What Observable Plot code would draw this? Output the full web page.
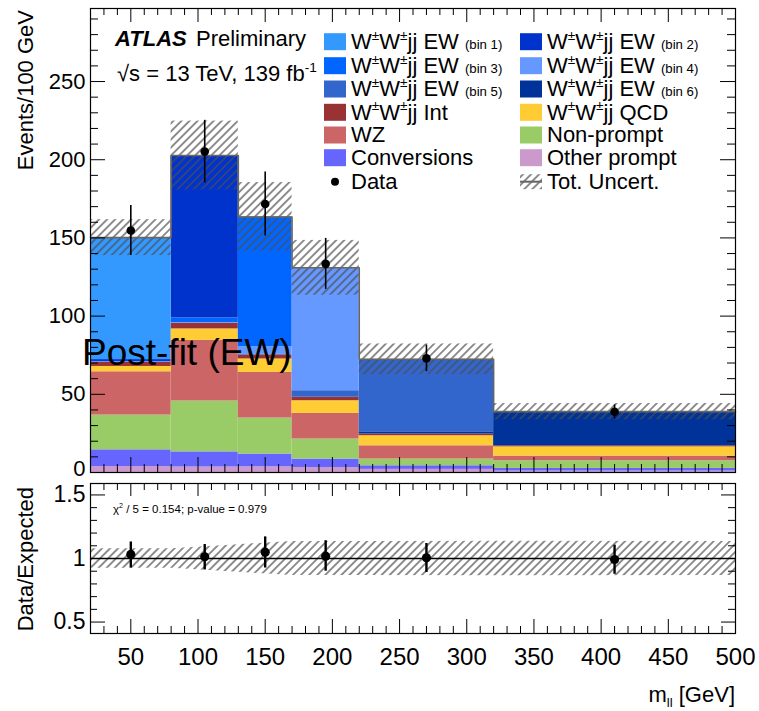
<!DOCTYPE html>
<html><head><meta charset="utf-8">
<script src="https://cdn.jsdelivr.net/npm/d3@7"></script>
<script src="https://cdn.jsdelivr.net/npm/@observablehq/plot@0.6"></script>
<style>
body{margin:0;background:#fff;}
#wrap{position:relative;width:759px;height:711px;overflow:hidden;background:#fff;}
#wrap > svg{position:absolute;left:0;}
</style></head><body><div id="wrap"></div>
<script>
const FONT = '"Liberation Sans", Arial, Helvetica, sans-serif';

// ---- binning (m_ll, GeV) ----
const binLo = [20, 80, 130, 170, 220, 320];
const binHi = [80, 130, 170, 220, 320, 500];
const binCenter = [50, 105, 150, 195, 270, 410];

// ---- processes, stacked bottom -> top ----
const processNames = ["Other prompt", "Conversions", "Non-prompt", "WZ", "W±W±jj QCD", "W±W±jj Int",
  "W±W±jj EW (bin 6)", "W±W±jj EW (bin 5)", "W±W±jj EW (bin 4)", "W±W±jj EW (bin 3)", "W±W±jj EW (bin 2)", "W±W±jj EW (bin 1)"];
const processColors = ["#cc99cc", "#6666ff", "#99cc66", "#cc6666", "#ffcc33", "#993333",
  "#003399", "#3366cc", "#6699ff", "#0066ff", "#0033cc", "#3399ff"];

// ---- post-fit yields (Events/100 GeV) per bin ----
const otherPrompt  = [3.8, 3.5, 3.6, 3.2, 2.0, 0.9];
const conversions  = [10.7, 9.7, 8.2, 5.4, 2.3, 1.7];
const nonPrompt    = [22.2, 32.5, 23.0, 12.8, 4.3, 4.9];
const wz           = [27.7, 38.8, 29.2, 16.4, 8.5, 3.0];
const qcd          = [3.4, 7.3, 8.6, 8.1, 6.4, 5.9];
const interference = [2.6, 3.6, 2.5, 2.1, 1.1, 0.7];
const ewBin6       = [0, 0, 0, 0.3, 1.4, 21.6];
const ewBin5       = [0.1, 0.1, 0.4, 4.0, 46.0, 0.2];
const ewBin4       = [0.2, 0.3, 4.9, 78.3, 0.4, 0];
const ewBin3       = [0.3, 3.0, 82.7, 0.3, 0, 0];
const ewBin2       = [1.2, 103.4, 0.3, 0, 0, 0];
const ewBin1       = [78.0, 0.5, 0, 0, 0, 0];
const processValues = [otherPrompt, conversions, nonPrompt, wz, qcd, interference,
  ewBin6, ewBin5, ewBin4, ewBin3, ewBin2, ewBin1];

const totalUncert = [11.5, 22, 22, 17.5, 9.8, 5.2];
const dataValues  = [154.7, 205.2, 171.7, 133.4, 73.0, 38.8];
const dataErrors  = [16, 20, 20.5, 16.3, 8.5, 4.4];

// ---- ratio panel ----
const ratioValues = [1.032, 1.013, 1.05, 1.018, 1.005, 0.992];
const ratioHigh   = [1.13, 1.11, 1.17, 1.14, 1.118, 1.105];
const ratioLow    = [0.925, 0.91, 0.925, 0.90, 0.89, 0.876];

// ---- axis ticks ----
const xMajorTicks = [50, 100, 150, 200, 250, 300, 350, 400, 450, 500];
const xMinorTicks = d3.range(30, 500, 10).filter(v => v % 50 !== 0);
const yMainMajor = [0, 50, 100, 150, 200, 250];
const yMainMinor = d3.range(10, 297, 10).filter(v => v % 50 !== 0);
const yRatioMajor = [0.5, 1, 1.5];
const yRatioTickLabels = ["0.5", "1", "1.5"];
const yRatioMinor = [0.6, 0.7, 0.8, 0.9, 1.1, 1.2, 1.3, 1.4];

// ---- derived tables ----
const stackRows = processNames.flatMap((p, i) => processValues[i].map((v, b) => ({proc: p, lo: binLo[b], hi: binHi[b], value: v})));
const bins = binLo.map((lo, b) => {
  const total = d3.sum(processValues, s => s[b]);
  return {lo, hi: binHi[b], center: binCenter[b], total, unc: totalUncert[b],
    data: dataValues[b], err: dataErrors[b],
    ratio: ratioValues[b], rHi: ratioHigh[b], rLo: ratioLow[b]};
});
const totalSteps = bins.map(b => ({x: b.lo, y: b.total})).concat([{x: binHi[binHi.length - 1], y: bins[bins.length - 1].total}]);
const bandPts = [{x: binLo[0], rel: bins[0].unc / bins[0].total}].concat(bins.map(b => ({x: b.hi, rel: b.unc / b.total})));

const W = 759;
const mL = 90, mR = 24;
const innerW = W - mL - mR;

function addHatch(svg, id) {
  d3.select(svg).insert("defs", ":first-child").html(
    `<pattern id="${id}" patternUnits="userSpaceOnUse" width="5.7" height="5.7" patternTransform="rotate(45)">` +
    `<line x1="2.85" y1="-1" x2="2.85" y2="7" stroke="#4d4d4d" stroke-width="1.25"/></pattern>`);
}

// ================= main panel =================
const mainH = 484, mT = 8, mB = 12;
const innerH = mainH - mT - mB;
const main = Plot.plot({
  width: W, height: mainH, marginLeft: mL, marginRight: mR, marginTop: mT, marginBottom: mB,
  style: {fontFamily: FONT, fontSize: "23px", color: "black", background: "transparent"},
  x: {domain: [20, 500], axis: null},
  y: {domain: [0, 296.7], axis: null},
  color: {domain: processNames, range: processColors},
  marks: [
    Plot.rectY(stackRows, {x1: "lo", x2: "hi", y: "value", fill: "proc", order: processNames}),
    Plot.rect(bins, {x1: "lo", x2: "hi", y1: d => d.total - d.unc, y2: d => d.total + d.unc, fill: "url(#hatchMain)"}),
    Plot.line(totalSteps, {x: "x", y: "y", curve: "step-after", stroke: "#666666", strokeWidth: 1.6}),
    Plot.ruleX(bins, {x: "center", y1: d => d.data - d.err, y2: d => d.data + d.err, stroke: "black", strokeWidth: 1.6}),
    Plot.dot(bins, {x: "center", y: "data", r: 4.3, fill: "black"}),
    Plot.tickX(xMajorTicks, {x: d => d, insetTop: innerH - 15, stroke: "black"}),
    Plot.tickX(xMajorTicks, {x: d => d, insetBottom: innerH - 14, stroke: "black"}),
    Plot.tickX(xMinorTicks, {x: d => d, insetTop: innerH - 8, stroke: "black"}),
    Plot.tickX(xMinorTicks, {x: d => d, insetBottom: innerH - 7, stroke: "black"}),
    Plot.tickY(yMainMajor, {y: d => d, insetRight: innerW - 15, stroke: "black"}),
    Plot.tickY(yMainMajor, {y: d => d, insetLeft: innerW - 15, stroke: "black"}),
    Plot.tickY(yMainMinor, {y: d => d, insetRight: innerW - 8, stroke: "black"}),
    Plot.tickY(yMainMinor, {y: d => d, insetLeft: innerW - 8, stroke: "black"}),
    Plot.axisY(yMainMajor.filter(v => v > 0), {tickSize: 0, tickPadding: 5, label: null, fontSize: 22, tickFormat: d => String(d)}),
    Plot.axisY([yMainMajor[0]], {tickSize: 0, tickPadding: 5, label: null, fontSize: 22, dy: -4, tickFormat: d => String(d)}),
    Plot.frame({stroke: "black", strokeWidth: 1.2})
  ]
});
addHatch(main, "hatchMain");
main.style.top = "0px";

// ================= ratio panel =================
const ratioTop = 477;
const ratioH = 711 - ratioTop, rT = 6, rB = 78;
const rInnerH = ratioH - rT - rB;
const ratio = Plot.plot({
  width: W, height: ratioH, marginLeft: mL, marginRight: mR, marginTop: rT, marginBottom: rB,
  style: {fontFamily: FONT, fontSize: "24px", color: "black", background: "transparent"},
  x: {domain: [20, 500], axis: null},
  y: {domain: [0.41, 1.59], axis: null},
  marks: [
    Plot.areaY(bandPts, {x: "x", y1: d => 1 - d.rel, y2: d => 1 + d.rel, fill: "url(#hatchRatio)", curve: "linear"}),
    Plot.ruleY([1], {stroke: "black", strokeWidth: 1.3}),
    Plot.ruleX(bins, {x: "center", y1: "rLo", y2: "rHi", stroke: "black", strokeWidth: 2.4}),
    Plot.dot(bins, {x: "center", y: "ratio", r: 4.6, fill: "black"}),
    Plot.tickX(xMajorTicks, {x: d => d, insetTop: rInnerH - 14, stroke: "black"}),
    Plot.tickX(xMajorTicks, {x: d => d, insetBottom: rInnerH - 13, stroke: "black"}),
    Plot.tickX(xMinorTicks, {x: d => d, insetTop: rInnerH - 7, stroke: "black"}),
    Plot.tickX(xMinorTicks, {x: d => d, insetBottom: rInnerH - 7, stroke: "black"}),
    Plot.tickY(yRatioMajor, {y: d => d, insetRight: innerW - 15, stroke: "black"}),
    Plot.tickY(yRatioMajor, {y: d => d, insetLeft: innerW - 14, stroke: "black"}),
    Plot.tickY(yRatioMinor, {y: d => d, insetRight: innerW - 7, stroke: "black"}),
    Plot.tickY(yRatioMinor, {y: d => d, insetLeft: innerW - 7, stroke: "black"}),
    Plot.axisY(yRatioMajor, {tickSize: 0, tickPadding: 5, label: null, fontSize: 23,
      tickFormat: d => yRatioTickLabels[yRatioMajor.indexOf(d)]}),
    Plot.axisX(xMajorTicks, {tickSize: 0, tickPadding: 14, label: null, fontSize: 24, tickFormat: d => String(d)}),
    Plot.frame({stroke: "black", strokeWidth: 1.2})
  ]
});
addHatch(ratio, "hatchRatio");
ratio.style.top = ratioTop + "px";

const wrap = document.getElementById("wrap");
wrap.appendChild(main);
wrap.appendChild(ratio);

// ================= annotations & legend overlay =================
const ov = d3.select(wrap).append("svg")
  .attr("width", 759).attr("height", 711).style("top", "0px")
  .style("font-family", FONT).style("pointer-events", "none");
ov.append("defs").html(
  `<pattern id="hatchLeg" patternUnits="userSpaceOnUse" width="5.7" height="5.7" patternTransform="rotate(45)">` +
  `<line x1="2.85" y1="-1" x2="2.85" y2="7" stroke="#4d4d4d" stroke-width="1.25"/></pattern>`);

// segments: [text, kind] kind: "n" normal, "sup" superscript, "sub" subscript, "small" small
function richText(g, x, y, size, segs, attrs = {}) {
  const t = g.append("text").attr("x", x).attr("y", y).attr("font-size", size).attr("fill", "black");
  for (const k in attrs) t.attr(k, attrs[k]);
  let shift = 0;
  for (const [s, kind] of segs) {
    const ts = t.append("tspan").text(s);
    let target = 0, fs = size;
    if (kind === "sup") { target = -size * 0.42; fs = size * 0.62; }
    else if (kind === "sub") { target = size * 0.22; fs = size * 0.6; }
    else if (kind === "small") { fs = size * 0.6; }
    ts.attr("dy", target - shift).attr("font-size", fs);
    shift = target;
  }
  return t;
}

// ATLAS label
richText(ov, 115, 46, 22, [["ATLAS", "n"]], {"font-weight": "bold", "font-style": "italic"});
richText(ov, 196, 46, 22, [["Preliminary", "n"]]);
richText(ov, 117, 81, 22, [["√s = 13 TeV, 139 fb", "n"], ["-1", "sup"]]);

// Post-fit label
richText(ov, 82, 365, 37, [["Post-fit (EW)", "n"]]);

// chi2
richText(ov, 113, 513, 11.5, [["χ", "n"], ["2", "sup"], [" / 5 = 0.154; p-value = 0.979", "n"]]);

// axis titles
ov.append("text").attr("transform", "translate(33,10) rotate(-90)").attr("text-anchor", "end")
  .attr("font-size", 22).attr("fill", "black").text("Events/100 GeV");
ov.append("text").attr("transform", "translate(33,487) rotate(-90)").attr("text-anchor", "end")
  .attr("font-size", 22).attr("fill", "black").text("Data/Expected");
richText(ov, 735, 702, 22, [["m", "n"], ["ll", "sub"], [" [GeV]", "n"]], {"text-anchor": "end"});

// legend
const wwSegs = (tail, small) => {
  const s = [["W", "n"], ["±", "sup"], ["W", "n"], ["±", "sup"], ["jj " + tail, "n"]];
  if (small) s.push(["\u00a0", "n"], [small, "small"]);
  return s;
};
const colorOf = name => processColors[processNames.indexOf(name)];
const legendRows = [41.7, 65.7, 89, 112.3, 135, 157.7, 181.7];
const legendCols = [
  [{k: "W±W±jj EW (bin 1)", segs: wwSegs("EW", "(bin 1)")},
   {k: "W±W±jj EW (bin 3)", segs: wwSegs("EW", "(bin 3)")},
   {k: "W±W±jj EW (bin 5)", segs: wwSegs("EW", "(bin 5)")},
   {k: "W±W±jj Int", segs: wwSegs("Int")},
   {k: "WZ", segs: [["WZ", "n"]]},
   {k: "Conversions", segs: [["Conversions", "n"]]},
   {k: "data", segs: [["Data", "n"]]}],
  [{k: "W±W±jj EW (bin 2)", segs: wwSegs("EW", "(bin 2)")},
   {k: "W±W±jj EW (bin 4)", segs: wwSegs("EW", "(bin 4)")},
   {k: "W±W±jj EW (bin 6)", segs: wwSegs("EW", "(bin 6)")},
   {k: "W±W±jj QCD", segs: wwSegs("QCD")},
   {k: "Non-prompt", segs: [["Non-prompt", "n"]]},
   {k: "Other prompt", segs: [["Other prompt", "n"]]},
   {k: "unc", segs: [["Tot. Uncert.", "n"]]}]
];
const colX = [324, 520];
legendCols.forEach((col, ci) => {
  col.forEach((item, ri) => {
    const cy = legendRows[ri];
    const sx = colX[ci];
    if (item.k === "data") {
      ov.append("circle").attr("cx", sx + 11).attr("cy", cy).attr("r", 4).attr("fill", "black");
    } else if (item.k === "unc") {
      ov.append("rect").attr("x", sx).attr("y", cy - 7.5).attr("width", 22).attr("height", 15).attr("fill", "url(#hatchLeg)");
      ov.append("line").attr("x1", sx).attr("x2", sx + 22).attr("y1", cy).attr("y2", cy).attr("stroke", "#666").attr("stroke-width", 2);
    } else {
      ov.append("rect").attr("x", sx).attr("y", cy - 8.5).attr("width", 22).attr("height", 17).attr("fill", colorOf(item.k));
    }
    richText(ov, sx + 27, cy + 7.3, 22, item.segs);
  });
});
</script></body></html>
